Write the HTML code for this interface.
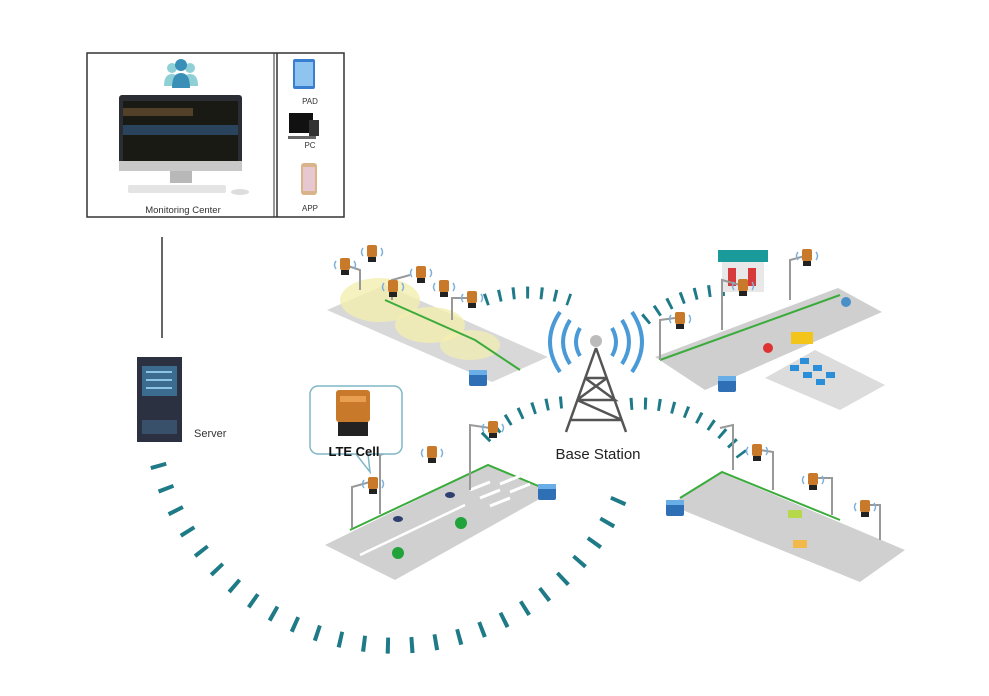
<!DOCTYPE html>
<html><head><meta charset="utf-8"><style>
html,body{margin:0;padding:0;background:#fff;}
svg{display:block;font-family:"Liberation Sans",sans-serif;}
</style></head><body>
<svg width="989" height="696" viewBox="0 0 989 696" xmlns="http://www.w3.org/2000/svg">
<defs>
<g id="lamp">
<rect x="-5" y="-7" width="10" height="12" rx="2" fill="#c87a2a"/>
<rect x="-4" y="5" width="8" height="5" fill="#222"/>
<path d="M-9,-4 q-3,4 0,8 M9,-4 q3,4 0,8" stroke="#7fb0d8" stroke-width="1.5" fill="none"/>
</g>
<g id="cab"><rect x="-9" y="-8" width="18" height="16" rx="2" fill="#2f6fb5"/><rect x="-9" y="-8" width="18" height="5" fill="#6aaee8"/></g>
</defs>

<rect x="87" y="53" width="257" height="164" fill="#fff" stroke="#333" stroke-width="1.5"/>
<line x1="277" y1="53" x2="277" y2="217" stroke="#333" stroke-width="1.5"/>
<line x1="274" y1="53" x2="274" y2="217" stroke="#333" stroke-width="1"/>
<circle cx="172" cy="68" r="5" fill="#8fd0d6"/><circle cx="190" cy="68" r="5" fill="#8fd0d6"/>
<circle cx="181" cy="65" r="6" fill="#3a8fb8"/>
<path d="M164,86 q0,-12 8,-12 q8,0 8,12z M182,86 q0,-12 8,-12 q8,0 8,12z" fill="#8fd0d6"/>
<path d="M172,88 q0,-15 9,-15 q9,0 9,15z" fill="#3a8fb8"/>
<rect x="119" y="95" width="123" height="76" rx="3" fill="#2a2d33"/>
<rect x="123" y="101" width="115" height="60" fill="#1a1a14"/>
<rect x="123" y="125" width="115" height="10" fill="#2d4f6e" opacity="0.8"/>
<rect x="123" y="108" width="70" height="8" fill="#6b5230" opacity="0.7"/>
<rect x="119" y="161" width="123" height="10" fill="#c8c8c8"/>
<rect x="170" y="171" width="22" height="12" fill="#b8b8b8"/>
<rect x="128" y="185" width="98" height="8" rx="2" fill="#e4e4e4"/>
<ellipse cx="240" cy="192" rx="9" ry="3" fill="#ddd"/>
<text x="183" y="213" text-anchor="middle" font-size="9.5" fill="#333">Monitoring Center</text>
<rect x="293" y="59" width="22" height="30" rx="2" fill="#3a7ecf"/><rect x="295" y="62" width="18" height="24" fill="#8fc3f0"/>
<text x="310" y="104" text-anchor="middle" font-size="8" fill="#333">PAD</text>
<rect x="289" y="113" width="24" height="20" fill="#111"/><rect x="309" y="120" width="10" height="16" fill="#333"/>
<rect x="288" y="136" width="28" height="3" fill="#666"/>
<text x="310" y="148" text-anchor="middle" font-size="8" fill="#333">PC</text>
<rect x="301" y="163" width="16" height="32" rx="3" fill="#d9b48a"/><rect x="303" y="167" width="12" height="24" fill="#e8c8d0"/>
<text x="310" y="211" text-anchor="middle" font-size="8" fill="#333">APP</text>

<line x1="162" y1="237" x2="162" y2="338" stroke="#333" stroke-width="1.5"/>

<rect x="137" y="357" width="45" height="85" fill="#2b3140"/>
<rect x="142" y="366" width="35" height="30" fill="#3b6c90"/>
<line x1="146" y1="372" x2="172" y2="372" stroke="#8ec3e6" stroke-width="2"/>
<line x1="146" y1="380" x2="172" y2="380" stroke="#8ec3e6" stroke-width="2"/>
<line x1="146" y1="388" x2="172" y2="388" stroke="#8ec3e6" stroke-width="2"/>
<rect x="142" y="420" width="35" height="14" fill="#38506a"/>
<text x="194" y="437" font-size="11" fill="#333">Server</text>

<g fill="none" stroke="#1e7a87">
<path d="M158,464 A245,245 0 0 0 622,492" stroke-width="16" stroke-dasharray="4 20"/>
<path d="M485,300 A125,125 0 0 1 570,300" stroke-width="12" stroke-dasharray="3 11"/>
<path d="M645,320 A125,125 0 0 1 725,290" stroke-width="12" stroke-dasharray="3 11"/>
<path d="M485,438 A125,125 0 0 1 568,402" stroke-width="12" stroke-dasharray="3 11"/>
<path d="M630,404 A125,125 0 0 1 742,455" stroke-width="12" stroke-dasharray="3 11"/>
</g>

<polygon points="327,310 385,285 548,357 492,382" fill="#d8d8d8"/>
<ellipse cx="380" cy="300" rx="40" ry="22" fill="#f3efb0" opacity="0.8"/>
<ellipse cx="430" cy="325" rx="35" ry="18" fill="#f3efb0" opacity="0.8"/>
<ellipse cx="470" cy="345" rx="30" ry="15" fill="#f3efb0" opacity="0.7"/>
<polyline points="385,300 475,340 520,370" fill="none" stroke="#3bab3b" stroke-width="2"/>
<use href="#cab" x="478" y="378"/>

<polygon points="655,357 838,288 882,312 705,390" fill="#cfcfcf"/>
<polyline points="660,360 840,295" fill="none" stroke="#3bab3b" stroke-width="2"/>
<polygon points="765,378 815,350 885,385 840,410" fill="#dcdcdc"/>
<g fill="#2a8ed8"><rect x="790" y="365" width="9" height="6"/><rect x="803" y="372" width="9" height="6"/><rect x="816" y="379" width="9" height="6"/><rect x="800" y="358" width="9" height="6"/><rect x="813" y="365" width="9" height="6"/><rect x="826" y="372" width="9" height="6"/></g>
<rect x="718" y="250" width="50" height="12" fill="#1a9a9a"/>
<rect x="722" y="262" width="42" height="30" fill="#e8e8e8"/>
<rect x="728" y="268" width="8" height="18" fill="#d63a3a"/><rect x="748" y="268" width="8" height="18" fill="#d63a3a"/>
<rect x="791" y="332" width="22" height="12" fill="#f3c51a"/>
<circle cx="846" cy="302" r="5" fill="#4a90c8"/><circle cx="768" cy="348" r="5" fill="#d33"/>
<use href="#cab" x="727" y="384"/>

<polygon points="325,545 488,465 552,492 395,580" fill="#d0d0d0"/>
<polyline points="350,530 488,465 548,490" fill="none" stroke="#3bab3b" stroke-width="2"/>
<line x1="360" y1="555" x2="465" y2="505" stroke="#fff" stroke-width="2.5"/>
<g stroke="#fff" stroke-width="3"><line x1="470" y1="490" x2="490" y2="482"/><line x1="480" y1="498" x2="500" y2="490"/><line x1="490" y1="506" x2="510" y2="498"/><line x1="500" y1="484" x2="520" y2="476"/><line x1="510" y1="492" x2="530" y2="484"/></g>
<ellipse cx="398" cy="519" rx="5" ry="3" fill="#2e3f70"/><ellipse cx="450" cy="495" rx="5" ry="3" fill="#2e3f70"/>
<circle cx="398" cy="553" r="6" fill="#1fa33a"/><circle cx="461" cy="523" r="6" fill="#1fa33a"/>
<use href="#cab" x="547" y="492"/>
<g stroke="#999" stroke-width="2" fill="none"><path d="M352,528 V487 L370,482"/><path d="M380,514 V455 L395,450"/><path d="M470,490 V425 L490,428"/></g>
<use href="#lamp" x="373" y="484"/><use href="#lamp" x="432" y="453"/><use href="#lamp" x="493" y="428"/>

<polygon points="670,505 720,472 905,550 860,582" fill="#d0d0d0"/>
<polyline points="680,498 722,472 840,520" fill="none" stroke="#3bab3b" stroke-width="2"/>
<rect x="788" y="510" width="14" height="8" fill="#b6d94a"/><rect x="793" y="540" width="14" height="8" fill="#f3b84a"/>
<use href="#cab" x="675" y="508"/>
<g stroke="#999" stroke-width="2" fill="none"><path d="M733,470 V425 L720,428"/><path d="M773,490 V452 L760,450"/><path d="M832,515 V478 L815,478"/><path d="M880,540 V505 L865,505"/></g>
<use href="#lamp" x="757" y="451"/><use href="#lamp" x="813" y="480"/><use href="#lamp" x="865" y="507"/>

<g stroke="#999" stroke-width="2" fill="none"><path d="M360,290 V270 L345,265"/><path d="M392,300 V280 L410,275"/><path d="M452,320 V298 L470,298"/><path d="M722,330 V280 L740,285"/><path d="M790,300 V260 L805,256"/><path d="M660,360 V320 L675,318"/></g>
<use href="#lamp" x="345" y="265"/><use href="#lamp" x="372" y="252"/><use href="#lamp" x="393" y="287"/><use href="#lamp" x="421" y="273"/><use href="#lamp" x="444" y="287"/><use href="#lamp" x="472" y="298"/>
<use href="#lamp" x="743" y="286"/><use href="#lamp" x="807" y="256"/><use href="#lamp" x="680" y="319"/>

<path d="M318,386 h76 a8,8 0 0 1 8,8 v52 a8,8 0 0 1 -8,8 h-26 l2,18 l-14,-18 h-38 a8,8 0 0 1 -8,-8 v-52 a8,8 0 0 1 8,-8z" fill="#fff" stroke="#7fb6c6" stroke-width="1.5"/>
<rect x="336" y="390" width="34" height="32" rx="3" fill="#c87a2a"/>
<rect x="340" y="396" width="26" height="6" fill="#e8a050"/>
<rect x="338" y="422" width="30" height="14" fill="#222"/>
<text x="354" y="456" text-anchor="middle" font-size="13" font-weight="bold" fill="#111">LTE Cell</text>

<g fill="none" stroke="#4a9ad8" stroke-width="4">
<path d="M580,328 q-8,14 0,28"/><path d="M570,320 q-14,22 0,44"/><path d="M560,312 q-20,30 0,60"/>
<path d="M612,328 q8,14 0,28"/><path d="M622,320 q14,22 0,44"/><path d="M632,312 q20,30 0,60"/>
</g>
<circle cx="596" cy="341" r="6" fill="#bbb"/>
<g stroke="#555" stroke-width="2.5" fill="none">
<path d="M596,348 L566,432 M596,348 L626,432 M585,378 L607,378 M577,400 L615,400 M570,420 L622,420 M585,378 L615,400 L577,400 L622,420 M607,378 L577,400"/>
</g>
<text x="598" y="459" text-anchor="middle" font-size="15" fill="#222">Base Station</text>
</svg>
</body></html>
